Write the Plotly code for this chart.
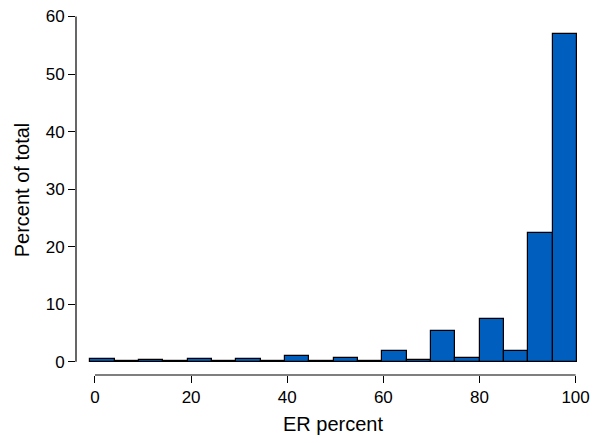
import plotly.graph_objects as go

# Histogram data (percent of total per bin)
bin_start = -1.0
bin_width = 5.065
percent = [0.4, 0.2, 0.3, 0.2, 0.4, 0.15, 0.4, 0.15, 1.0, 0.2,
           0.65, 0.2, 1.8, 0.3, 5.3, 0.7, 7.4, 1.8, 22.3, 57.0]
x_ticks = [0, 20, 40, 60, 80, 100]
y_ticks = [0, 10, 20, 30, 40, 50, 60]

centers = [bin_start + bin_width * (i + 0.5) for i in range(len(percent))]

fig = go.Figure()
fig.add_trace(go.Bar(
    x=centers, y=percent, width=bin_width,
    marker=dict(color="#005EBF", line=dict(color="black", width=1.2)),
    hoverinfo="skip",
))

font = dict(family="Liberation Sans, Arial, sans-serif", size=17, color="black")
title_font = dict(family="Liberation Sans, Arial, sans-serif", size=20, color="black")

fig.update_layout(
    width=597, height=443,
    margin=dict(l=76, r=7, t=5, b=68),
    paper_bgcolor="white", plot_bgcolor="white",
    showlegend=False,
    font=font,
    bargap=0,
    xaxis=dict(
        range=[-3.95, 103], tickvals=x_ticks, ticks="outside", ticklen=7,
        tickcolor="black", tickwidth=1.2, showgrid=False, zeroline=False,
        showline=False, title=dict(text="ER percent", font=title_font, standoff=10),
        tickfont=font,
    ),
    yaxis=dict(
        range=[-2.31, 62], tickvals=y_ticks, ticks="outside", ticklen=7,
        tickcolor="black", tickwidth=1.2, showgrid=False, zeroline=False,
        showline=False, title=dict(text="Percent of total", font=title_font, standoff=10),
        tickfont=font,
    ),
    shapes=[
        dict(type="line", xref="x", yref="paper", x0=x_ticks[0], x1=x_ticks[-1],
             y0=0, y1=0, line=dict(color="black", width=1.2)),
        dict(type="line", xref="paper", yref="y", x0=0, x1=0,
             y0=y_ticks[0], y1=y_ticks[-1], line=dict(color="black", width=1.2)),
    ],
)

fig.write_html("out.html", config={"displayModeBar": False},
               post_script="document.body.style.margin='0';")
